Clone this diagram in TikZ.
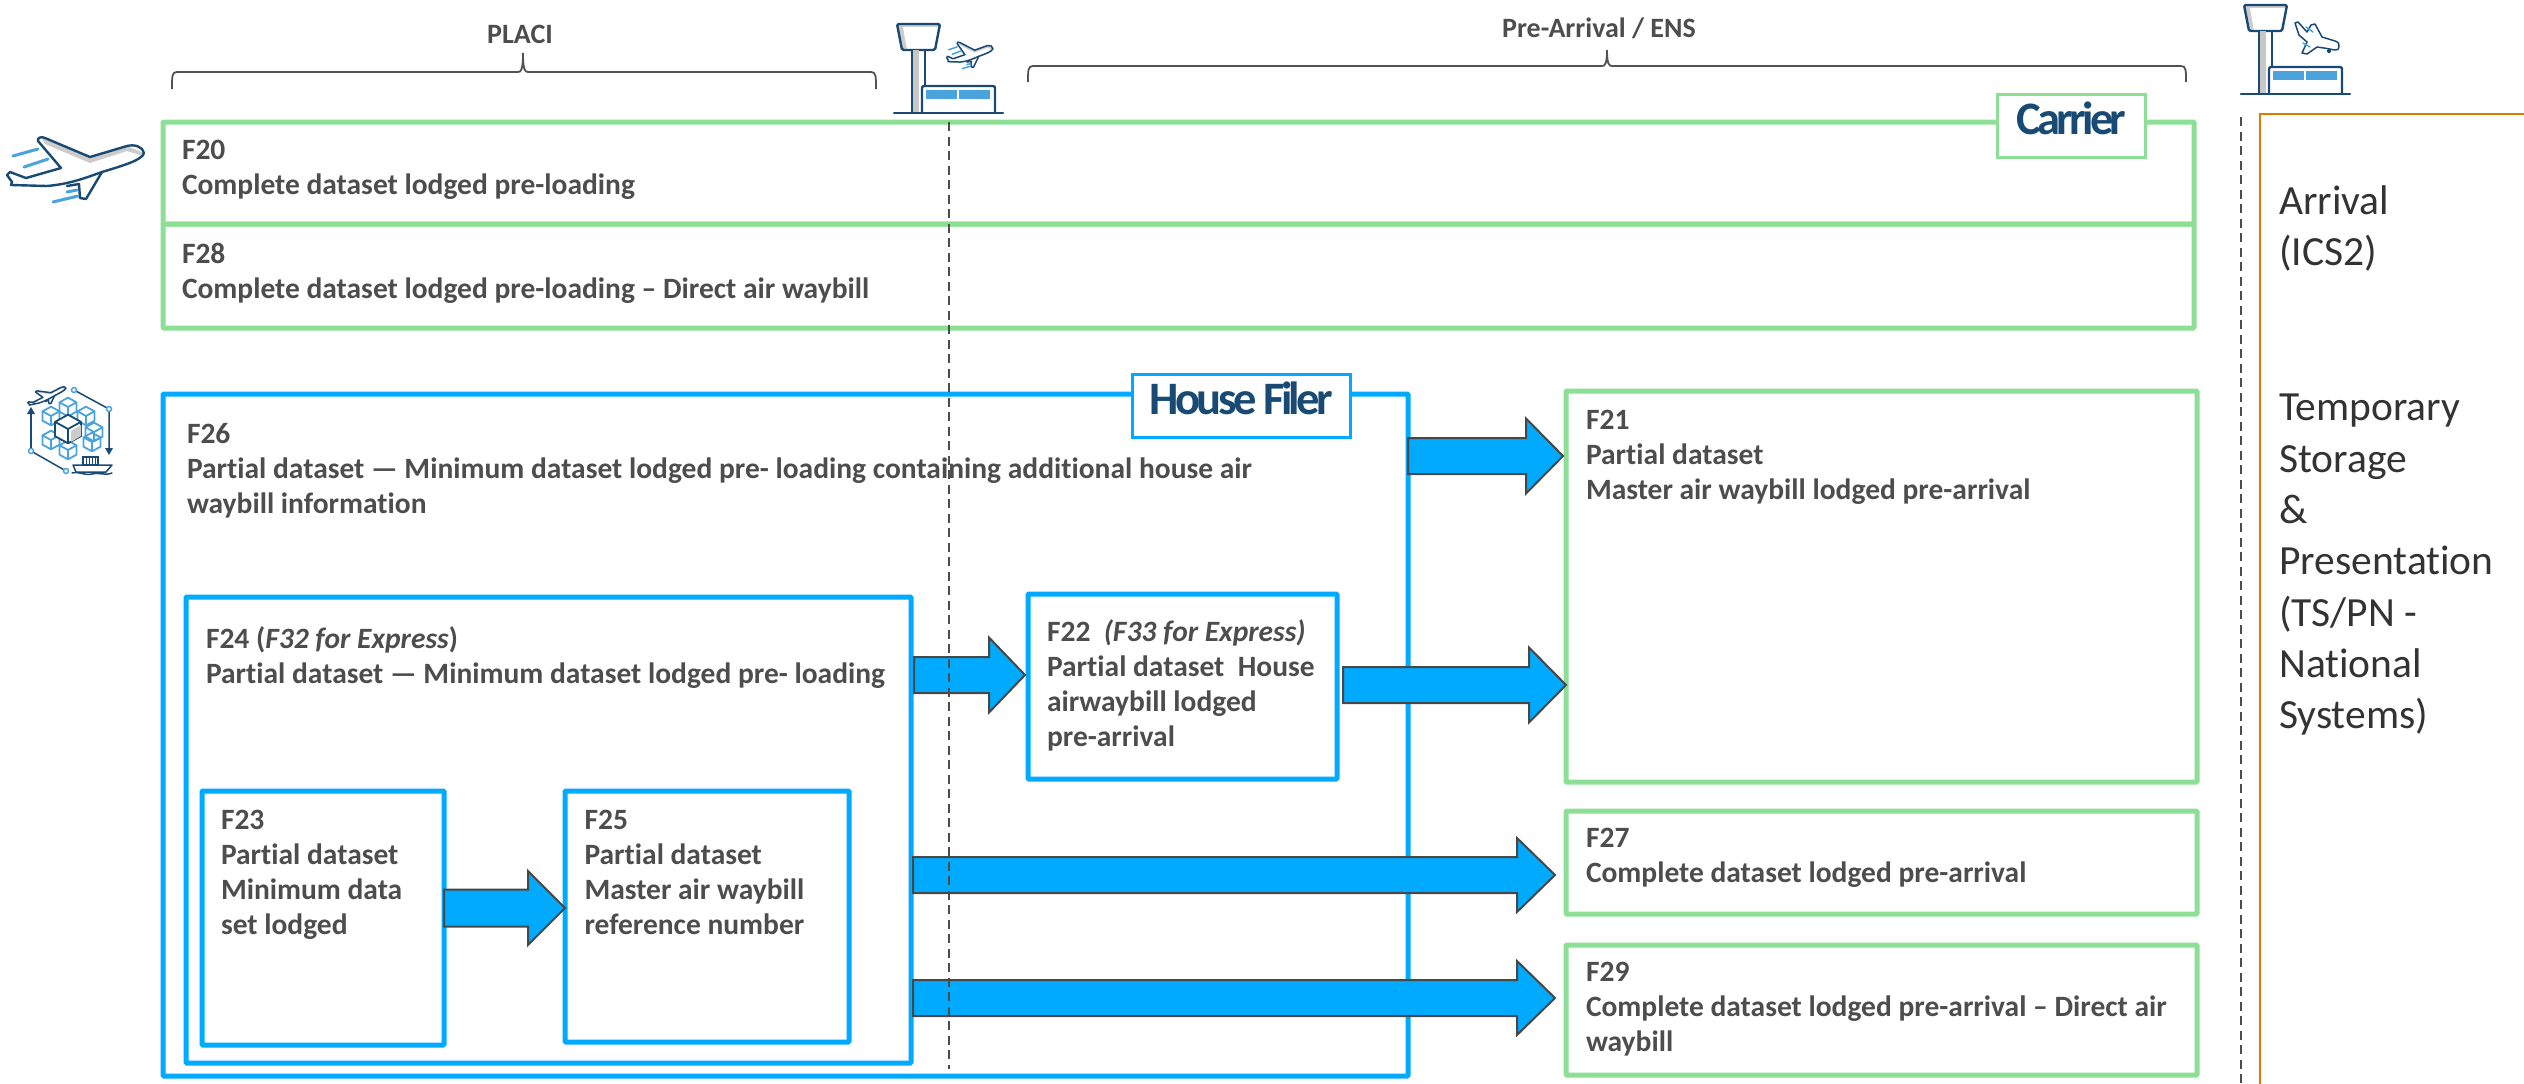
\documentclass[tikz,border=0pt]{standalone}
\usepackage{fontspec}
\setmainfont[Ligatures={TeX,NoCommon}]{Carlito}
\newfontfamily\lblfont[LetterSpace=-7.8]{Carlito}
\usetikzlibrary{calc}
\definecolor{gborder}{HTML}{8CDF94}
\definecolor{bborder}{HTML}{00AAFF}
\definecolor{tcol}{HTML}{4D4D4D}
\definecolor{navy}{HTML}{184A73}
\definecolor{sky}{HTML}{4AA3DC}
\definecolor{orangeb}{HTML}{E07B00}
\tikzset{
 gbox/.style={draw=gborder,line width=5pt,rectangle,inner sep=0pt,outer sep=0pt,anchor=north west,rounded corners=1pt},
 bbox/.style={draw=bborder,line width=5pt,rectangle,inner sep=0pt,outer sep=0pt,anchor=north west,rounded corners=1pt},
 txt/.style={font=\fontsize{29.5}{35}\selectfont\bfseries,text=tcol,align=left,anchor=north west,inner sep=0pt,outer sep=0pt},
 sidetxt/.style={font=\fontsize{41.5}{51.3}\selectfont,text=black!80,align=left,anchor=north west,inner sep=0pt},
 hdr/.style={font=\fontsize{28}{30}\selectfont\bfseries,text=tcol,inner sep=0pt},
 barrow/.style={draw=black!72,fill=bborder,line width=2pt,line join=miter},
 bracket/.style={draw=black!68,line width=1.8pt},
 dashln/.style={draw=black!70,line width=1.6pt,dash pattern=on 9pt off 5.5pt},
 ink/.style={draw=navy,line width=2.4pt,line join=round,line cap=round},
 inkthin/.style={draw=navy,line width=1.5pt,line join=round,line cap=round},
 skyl/.style={draw=sky,line cap=round},
 labelbox/.style={rectangle,fill=white,line width=2.5pt,anchor=north west,inner sep=0pt},
}
\newcommand\labeltext[1]{\raisebox{-8.5pt}[0pt][0pt]{\lblfont\fontsize{46.5}{46.5}\selectfont\bfseries\color{navy}#1}}
% block arrow between two named points (horizontal)
\newcommand\blockarrow[5]{%
 \path[barrow] let \p1=(#1),\p2=(#2) in
 (\x1,{\y1+#3pt}) -- ({\x2-#4pt},{\y1+#3pt}) -- ({\x2-#4pt},{\y1+#5pt}) -- (\x2,\y1)
 -- ({\x2-#4pt},{\y1-#5pt}) -- ({\x2-#4pt},{\y1-#3pt}) -- (\x1,{\y1-#3pt}) -- cycle;}
% plane: local coordinates are those of the big plane
\newcommand\planeicon[2]{%
 \begin{scope}[#1]
  \fill[black!20] (42,138) -- (90,157) -- (127,146) -- (144,153) -- (140,155) -- (127,151) -- (90,163) -- (45,144) -- cycle;
  \path[#2] (144,153) .. controls (143,147) and (135,144) .. (127,146) -- (90,157) -- (45,138) .. controls (41,136) and (37,138) .. (38,141) -- (61,168) -- (26,178) -- (10,172) -- (7,175) -- (12,182) -- (11,185) -- (47,186) .. controls (70,184) and (85,178) .. (102,172) .. controls (125,165) and (142,160) .. (144,153);
  \path[#2] (102,172) -- (86,199) -- (80,198) -- (79,184) -- (67,186);
 \end{scope}}
\newcommand\planespeed[2]{%
 \begin{scope}[#1]
  \foreach \a/\b/\c/\d in {13/156/38/149,24/167/48/159,53/202/78/196,67/192/77/190}{\draw[skyl,line width=#2] (\a,\b) -- (\c,\d);}
 \end{scope}}
\newcommand\towericon[2]{%
 \begin{scope}[shift={(#1,#2)}]
  \fill[black!20] (3,-89) -- (46,-89) -- (41,-63) -- (8,-63) -- cycle;
  \fill[white] (9,-86) -- (46,-86) -- (41,-63) -- (13,-63) -- cycle;
  \path[ink,rounded corners=1.5pt] (3,-89) -- (46,-89) -- (41,-63) -- (8,-63) -- cycle;
  \fill[black!22] (18,-63) rectangle (25,0);
  \path[ink] (18,-63) -- (18,0) (31,-63) -- (31,-27);
  \path[ink,rounded corners=2pt] (28,0) -- (28,-27) -- (101,-27) -- (101,0);
  \fill[sky] (32,-23) rectangle (63,-14);
  \fill[sky] (65,-23) rectangle (96,-14);
  \path[ink] (0,0) -- (109,0);
 \end{scope}}
\newcommand\isocube[4]{% x y size colour
 \begin{scope}[shift={(#1,#2)},x=#3pt,y=-#3pt]
  \path[draw=#4,line width=1.8pt,line join=round] (-1,-.55) -- (0,-1.1) -- (1,-.55) -- (0,0) -- cycle (-1,-.55) -- (-1,.55) -- (0,1.1) -- (1,.55) -- (1,-.55) (0,0) -- (0,1.1);
 \end{scope}}
\begin{document}
\begin{tikzpicture}[x=1pt,y=-1pt]
\useasboundingbox (0,0) rectangle (2524,1084);
% ---- carrier rows
\node[gbox,minimum width=2031pt,minimum height=102pt] (f20) at (163,122) {};
\node[gbox,minimum width=2031pt,minimum height=104pt] (f28) at (163,224) {};
\node[txt] (t20) at (182,140) {F20\\Complete dataset lodged pre-loading};
\node[txt] (t28) at (182,243) {F28\\Complete dataset lodged pre-loading – Direct air waybill};
\node[labelbox,draw=gborder,minimum width=148pt,minimum height=63pt] (carrier) at (1996,93) {\labeltext{Carrier}};
% ---- house filer
\node[bbox,minimum width=1245pt,minimum height=682pt] (f26) at (163,394) {};
\node[txt] (t26) at (187,423) {F26\\Partial dataset — Minimum dataset lodged pre- loading containing additional house air\\waybill information};
\node[labelbox,draw=bborder,minimum width=218pt,minimum height=63pt] (hfiler) at (1131,373) {\labeltext{House Filer}};
\node[bbox,minimum width=725pt,minimum height=466pt] (f24) at (186,597) {};
\node[txt] (t24) at (206,627) {F24 (\textit{F32 for Express})\\Partial dataset — Minimum dataset lodged pre- loading};
\node[bbox,minimum width=242pt,minimum height=254pt] (f23) at (202,791) {};
\node[txt] (t23) at (221,810) {F23\\Partial dataset\\Minimum data\\set lodged};
\node[bbox,minimum width=284pt,minimum height=251pt] (f25) at (565,791) {};
\node[txt] (t25) at (584.5,810) {F25\\Partial dataset\\Master air waybill\\reference number};
\node[bbox,minimum width=309pt,minimum height=185pt] (f22) at (1028,594) {};
\node[txt] (t22) at (1047,620) {F22\ \ \textit{(F33 for Express)}\\Partial dataset\ \ House\\airwaybill lodged\\pre-arrival};
% ---- right column
\node[gbox,minimum width=631pt,minimum height=391pt] (f21) at (1566,391) {};
\node[txt] (t21) at (1586,410) {F21\\Partial dataset\\Master air waybill lodged pre-arrival};
\node[gbox,minimum width=631pt,minimum height=103pt] (f27) at (1566,811) {};
\node[txt] (t27) at (1586,828.5) {F27\\Complete dataset lodged pre-arrival};
\node[gbox,minimum width=631pt,minimum height=130pt] (f29) at (1566,945) {};
\node[txt] (t29) at (1586,962.5) {F29\\Complete dataset lodged pre-arrival – Direct air\\waybill};
% ---- block arrows
\coordinate (a1s) at (f26.east |- 0,456);
\coordinate (a1e) at ($(f21.west |- 0,456)+(-3,0)$);
\blockarrow{a1s}{a1e}{18}{37}{37.5}
\coordinate (a2s) at ($(f24.east |- 0,675)+(3,0)$);
\coordinate (a2e) at ($(f22.west |- 0,675)+(-3,0)$);
\blockarrow{a2s}{a2e}{18}{36}{37.5}
\coordinate (a3s) at ($(f22.east |- 0,685)+(6,0)$);
\coordinate (a3e) at (f21.west |- 0,685);
\blockarrow{a3s}{a3e}{18}{37}{37.5}
\coordinate (a4s) at (f23.east |- 0,908);
\coordinate (a4e) at (f25.west |- 0,908);
\blockarrow{a4s}{a4e}{18.5}{37}{37}
\coordinate (a5s) at ($(f24.east |- 0,875)+(2,0)$);
\coordinate (a5e) at (1555,875);
\blockarrow{a5s}{a5e}{18}{38}{37}
\coordinate (a6s) at ($(f24.east |- 0,998)+(2,0)$);
\coordinate (a6e) at (1555,998);
\blockarrow{a6s}{a6e}{18}{38}{37}
% ---- dashed timelines
\coordinate (d1a) at (949,122);
\coordinate (d1b) at (949,1069);
\draw[dashln] (d1a) -- (d1b);
\coordinate (d2a) at (2241,117);
\coordinate (d2b) at (2241,1084);
\draw[dashln] (d2a) -- (d2b);
% ---- orange panel
\coordinate (o1) at (2524,114);
\coordinate (o2) at (2260,114);
\coordinate (o3) at (2260,1084);
\draw[draw=orangeb,line width=2pt] (o1) -- (o2) -- (o3);
\node[sidetxt] (arr) at (2279,185) {Arrival\\(ICS2)};
\node[sidetxt] (ts) at (2279,394) {Temporary\\Storage\\\&\\Presentation\\(TS/PN -\\National\\Systems)};
% ---- braces and headers
\node[hdr] (placi) at (520,34) {PLACI};
\node[hdr] (pre) at (1599,28) {Pre-Arrival / ENS};
\draw[bracket] (172,89) .. controls (172,76) and (172,72) .. (177,72) -- (518,72) .. controls (521,72) and (523,70) .. (523,53) .. controls (523,70) and (525,72) .. (528,72) -- (871,72) .. controls (876,72) and (876,76) .. (876,89);
\draw[bracket] (1028,82) .. controls (1028,70) and (1028,66) .. (1033,66) -- (1602,66) .. controls (1605,66) and (1607,64) .. (1607,50) .. controls (1607,64) and (1609,66) .. (1612,66) -- (2181,66) .. controls (2186,66) and (2186,70) .. (2186,82);
% ---- icons
\planeicon{}{ink}
\planespeed{}{3pt}
\towericon{894}{113}
\planeicon{shift={(944.3,-14.2)},xscale=.338,yscale=.41}{inkthin}
\planespeed{shift={(944.3,-14.2)},xscale=.338,yscale=.41}{1.5pt}
\towericon{2241}{94}
% landing plane
\path[inkthin] (2295,23) -- (2298,22) -- (2307,32) -- (2311,25) -- (2315,24) -- (2322,37) -- (2335,41) .. controls (2338,42) and (2340,44) .. (2339,46) .. controls (2339,49) and (2337,51) .. (2335,50) -- (2324,48) -- (2317,47) -- (2307,54) -- (2302,53) -- (2307,42) -- (2299,35) -- cycle;
\draw[inkthin] (2329,51) circle (1.5pt);
\draw[skyl,line width=1.5pt] (2306,27) -- (2313,32) (2303,43) -- (2310,47);
% house filer icon
\foreach \p/\q in {68/407,51/416,86/416,94/432,51/440,68/450,92/442}{\isocube{\p}{\q}{8.5}{sky}}
\fill[white] (55,422) -- (68,415) -- (81,422) -- (81,436) -- (68,444) -- (55,436) -- cycle;
\isocube{68}{429}{13}{navy}
\fill[black!20] (71,431) -- (81,425) -- (81,436) -- (71,442) -- cycle;
\planeicon{shift={(21.1,359.1)},x={(.283pt,.0676pt)},y={(.027pt,-.2526pt)}}{inkthin}
\path[inkthin] (74,390) -- (109,409) -- (109,450);
\path[inkthin] (31,451) -- (66,471);
\path[inkthin] (31,451) -- (31,412);
\fill[navy] (109,455) -- (105,448) -- (113,448) -- cycle;
\fill[navy] (31,407) -- (27,414) -- (35,414) -- cycle;
\foreach \p/\q in {74/390,109/409,31/451,66/471}{\filldraw[draw=sky,fill=white,line width=1.5pt] (\p,\q) circle (2.5pt);}
\filldraw[draw=navy,fill=white,line width=1.2pt] (83,457) rectangle (98,465);
\foreach \p in {86,89,92,95}{\draw[navy,line width=1pt] (\p,457) -- (\p,465);}
\path[inkthin,fill=white] (73,465) -- (112,465) -- (106,472) -- (76,472) -- cycle;
\path[inkthin] (72,473) .. controls (80,471) and (84,476) .. (92,474) .. controls (100,472) and (104,476) .. (112,473);
\end{tikzpicture}
\end{document}
